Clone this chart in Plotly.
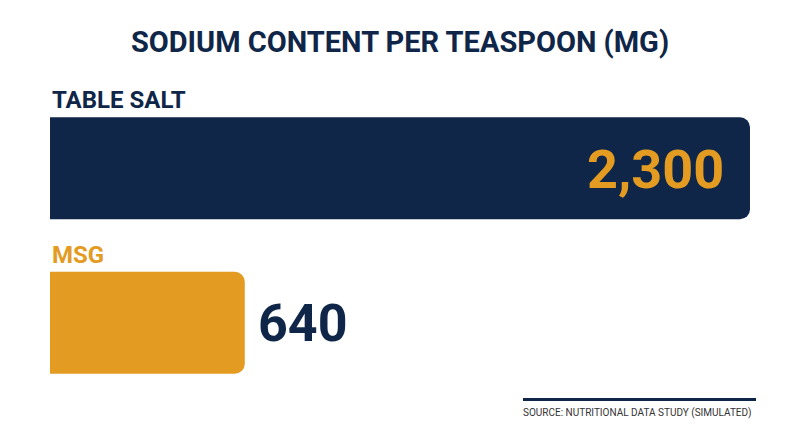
import plotly.graph_objects as go

categories = ["TABLE SALT", "MSG"]
values = [2300, 640]
value_labels = ["2,300", "640"]

NAVY = "#0f2649"
ORANGE = "#e39b22"
bar_colors = [NAVY, ORANGE]
label_colors = [NAVY, ORANGE]
FONT = "Roboto"

fig = go.Figure()
fig.add_trace(go.Bar(
    x=values, y=categories, orientation="h",
    marker=dict(color=bar_colors, line=dict(width=0)),
    hoverinfo="skip", showlegend=False,
))

annotations = []
for i, (cat, v, lab) in enumerate(zip(categories, values, value_labels)):
    annotations.append(dict(
        x=0, xref="x", y=cat, yref="y", text=f"<b>{cat}</b>",
        xanchor="left", yanchor="middle", yshift=68, showarrow=False,
        font=dict(family=FONT, size=24, color=label_colors[i]),
    ))
    inside = v > max(values) * 0.5
    annotations.append(dict(
        x=v, xref="x", y=cat, yref="y", text=f"<b>{lab}</b>",
        xanchor="right" if inside else "left",
        xshift=-24 if inside else 11,
        yanchor="middle", yshift=-1, showarrow=False,
        font=dict(family=FONT, size=54 if inside else 52, color=ORANGE if inside else NAVY),
    ))

annotations.append(dict(
    x=(754 - 50) / 700, y=(447 - 47 - 413) / 309, xref="paper", yref="paper",
    text="SOURCE: NUTRITIONAL DATA STUDY (SIMULATED)",
    showarrow=False, xanchor="right", yanchor="middle",
    font=dict(family=FONT, size=10, color="#333333"),
))

fig.update_layout(
    width=800, height=447,
    margin=dict(l=50, r=50, t=91, b=47),
    paper_bgcolor="white", plot_bgcolor="white",
    barcornerradius=10,
    bargap=0.34,
    title=dict(text="<b>SODIUM CONTENT PER TEASPOON (MG)</b>", x=0.5, xanchor="center",
               y=1 - 42 / 447, yanchor="middle",
               font=dict(family=FONT, size=29, color=NAVY)),
    xaxis=dict(range=[0, 2300], visible=False, fixedrange=True),
    yaxis=dict(range=[len(categories) - 0.5, -0.5], autorange=False, visible=False, fixedrange=True),
    annotations=annotations,
    shapes=[dict(type="line", xref="paper", yref="paper",
                 x0=(523 - 50) / 700, x1=(756 - 50) / 700,
                 y0=(447 - 47 - 399.5) / 309, y1=(447 - 47 - 399.5) / 309,
                 line=dict(color=NAVY, width=3))],
)

fig.write_html("out.html", config={"displayModeBar": False},
               post_script="document.body.style.margin='0';")
